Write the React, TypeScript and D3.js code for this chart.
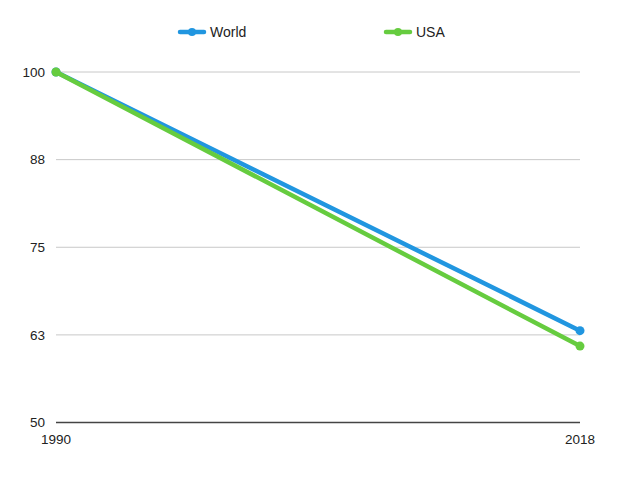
import React from "react";
import * as d3 from "d3";

const years = [1990, 2018];
const worldValues = [100, 63.1];
const usaValues = [100, 60.9];
const yTicks = [50, 62.5, 75, 87.5, 100];
const seriesNames = ["World", "USA"];
const seriesColors = ["#2196e0", "#66cc3f"];

export default function App() {
  const W = 640, H = 478;
  const x = d3.scaleLinear().domain([1990, 2018]).range([56, 580]);
  const y = d3.scaleLinear().domain([50, 100]).range([422.5, 72]);
  const line = d3.line<number>().x((_, i) => x(years[i])).y((d) => y(d));
  const series = [worldValues, usaValues];
  const legendX = [180, 386];
  return (
    <svg width={W} height={H} style={{ position: "absolute", left: 0, top: 0 }} fontFamily="'Liberation Sans', Arial, sans-serif">
      <rect width={W} height={H} fill="#fff" />
      {yTicks.map((t) => (
        <g key={t}>
          <line x1={56} x2={580} y1={y(t)} y2={y(t)} stroke={t === 50 ? "#444" : "#c8c8c8"} strokeWidth={t === 50 ? 1.5 : 1} />
          <text x={45} y={y(t)} dy="0.35em" textAnchor="end" fontSize={13.5} fill="#222">{Math.round(t)}</text>
        </g>
      ))}
      {years.map((yr) => (
        <text key={yr} x={x(yr)} y={444} textAnchor="middle" fontSize={13.5} fill="#222">{yr}</text>
      ))}
      {series.map((s, k) => (
        <g key={k}>
          <path d={line(s) || ""} fill="none" stroke={seriesColors[k]} strokeWidth={4.5} strokeLinecap="round" />
          {s.map((v, i) => (
            <circle key={i} cx={x(years[i])} cy={y(v)} r={4.5} fill={seriesColors[k]} />
          ))}
        </g>
      ))}
      {seriesNames.map((n, k) => (
        <g key={n}>
          <line x1={legendX[k]} x2={legendX[k] + 24} y1={32} y2={32} stroke={seriesColors[k]} strokeWidth={4.5} strokeLinecap="round" />
          <circle cx={legendX[k] + 12} cy={32} r={4} fill={seriesColors[k]} />
          <text x={legendX[k] + 30} y={32} dy="0.35em" fontSize={14} fill="#222">{n}</text>
        </g>
      ))}
    </svg>
  );
}
